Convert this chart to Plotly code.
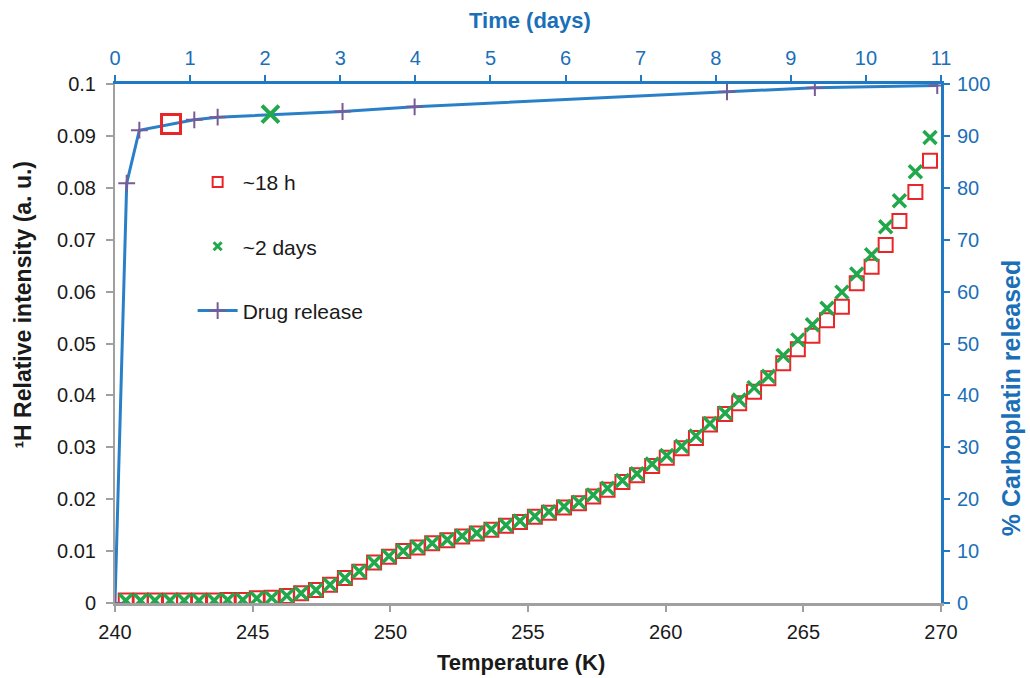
import plotly.graph_objects as go

# ---- data ----
temperature_K = [240.39, 240.93, 241.45, 242.00, 242.51, 243.05, 243.60, 244.09, 244.64, 245.15,
                 245.69, 246.24, 246.76, 247.30, 247.81, 248.35, 248.87, 249.41, 249.95, 250.47,
                 250.99, 251.52, 252.07, 252.61, 253.14, 253.67, 254.20, 254.71, 255.25, 255.76,
                 256.31, 256.85, 257.37, 257.89, 258.43, 258.96, 259.51, 260.04, 260.58, 261.10,
                 261.61, 262.16, 262.67, 263.21, 263.73, 264.27, 264.80, 265.33, 265.86, 266.40,
                 266.94, 267.48, 267.99, 268.49, 269.07, 269.60]

intensity_18h = [0.0005, 0.0005, 0.0005, 0.0005, 0.0005, 0.0005, 0.0005, 0.0006, 0.0006, 0.0009,
                 0.0010, 0.00135, 0.0019, 0.0025, 0.0035, 0.0048, 0.0060, 0.0078, 0.0089, 0.0100,
                 0.0107, 0.0115, 0.0121, 0.0128, 0.0134, 0.0141, 0.0149, 0.0156, 0.0166, 0.0174,
                 0.0184, 0.0192, 0.0205, 0.0218, 0.0233, 0.0246, 0.0264, 0.0280, 0.0298, 0.0318,
                 0.0344, 0.0364, 0.0385, 0.0407, 0.0433, 0.0462, 0.0489, 0.0515, 0.0545, 0.0571,
                 0.0616, 0.0648, 0.0690, 0.0736, 0.0792, 0.0852]

intensity_2days = [0.0005, 0.0005, 0.0005, 0.0005, 0.0005, 0.0005, 0.0005, 0.0006, 0.0006, 0.0009,
                   0.0010, 0.0014, 0.0019, 0.0025, 0.0035, 0.0048, 0.0061, 0.0078, 0.0090, 0.0100,
                   0.0108, 0.0115, 0.0122, 0.0129, 0.0135, 0.0142, 0.0150, 0.0158, 0.0167, 0.0176,
                   0.0186, 0.0194, 0.0208, 0.0221, 0.0236, 0.0249, 0.0268, 0.0284, 0.0302, 0.0322,
                   0.0346, 0.0366, 0.0391, 0.0415, 0.0437, 0.0477, 0.0507, 0.0536, 0.0568, 0.0599,
                   0.0634, 0.0671, 0.0725, 0.0775, 0.0831, 0.0897]

release_days = [0, 0.156, 0.324, 1.056, 1.367, 3.03, 3.99, 8.15, 9.32, 10.95]
release_pct = [0, 80.9, 91.1, 93.1, 93.6, 94.7, 95.6, 98.5, 99.3, 99.7]

sample_18h_day = [0.746]
sample_18h_pct = [92.3]
sample_2d_day = [2.07]
sample_2d_pct = [94.2]

x_ticks_T = [240, 245, 250, 255, 260, 265, 270]
x_ticks_days = list(range(0, 12))

title_bottom = "<b>Temperature (K)</b>"
title_left = "<b>¹H Relative intensity (a. u.)</b>"
title_top = "<b>Time (days)</b>"
title_right = "<b>% Carboplatin released</b>"

RED = "#e8262a"
GREEN = "#21a84a"
BLUE_LINE = "#2a80c8"
BLUE_AX = "#2079c2"
BLUE_TXT = "#1b6fb8"
PURPLE = "#7a5a96"
GRAY = "#a0a0a0"
BLACK = "#1a1a1a"
FONT = "Liberation Sans, Arial, sans-serif"
TICK_SIZE = 20

fig = go.Figure()

fig.add_trace(go.Scatter(
    x=temperature_K, y=intensity_18h, mode="markers", showlegend=False,
    marker=dict(symbol="square-open", size=14, color=RED, line=dict(width=2, color=RED)),
    xaxis="x", yaxis="y"))
fig.add_trace(go.Scatter(
    x=temperature_K, y=intensity_2days, mode="markers", showlegend=False,
    marker=dict(symbol="x-thin", size=13, color=GREEN, line=dict(width=3.5, color=GREEN)),
    xaxis="x", yaxis="y"))

# legend proxies
fig.add_trace(go.Scatter(
    x=[None], y=[None], mode="markers", name="~18 h", legendgroup="a",
    marker=dict(symbol="square-open", size=10, color=RED, line=dict(width=2, color=RED))))
fig.add_trace(go.Scatter(
    x=[None], y=[None], mode="markers", name="~2 days", legendgroup="b",
    marker=dict(symbol="x-thin", size=8, color=GREEN, line=dict(width=3, color=GREEN))))

fig.add_trace(go.Scatter(
    x=release_days, y=release_pct, mode="lines+markers", name="Drug release", legendgroup="c",
    line=dict(color=BLUE_LINE, width=3),
    marker=dict(symbol="cross-thin", size=12, color=PURPLE, line=dict(width=2, color=PURPLE)),
    xaxis="x2", yaxis="y2"))
fig.add_trace(go.Scatter(
    x=sample_18h_day, y=sample_18h_pct, mode="markers", showlegend=False,
    marker=dict(symbol="square-open", size=19, color=RED, line=dict(width=3, color=RED)),
    xaxis="x2", yaxis="y2"))
fig.add_trace(go.Scatter(
    x=sample_2d_day, y=sample_2d_pct, mode="markers", showlegend=False,
    marker=dict(symbol="x-thin", size=17, color=GREEN, line=dict(width=4, color=GREEN)),
    xaxis="x2", yaxis="y2"))

axis_common = dict(showgrid=False, zeroline=False, showline=True, automargin=False,
                   ticks="outside", tickwidth=2)

fig.update_layout(
    width=1030, height=678,
    margin=dict(l=115, r=89, t=84, b=75, autoexpand=False),
    paper_bgcolor="white", plot_bgcolor="white",
    font=dict(family=FONT, size=TICK_SIZE, color=BLACK),
    showlegend=True,
    legend=dict(x=0.094, y=0.85, xanchor="left", yanchor="top",
                traceorder="grouped", tracegroupgap=34,
                font=dict(size=21, color=BLACK, family=FONT),
                bgcolor="rgba(0,0,0,0)", itemwidth=40),
    xaxis=dict(range=[240, 270], tickvals=x_ticks_T, ticklen=6, tickcolor=GRAY,
               linecolor=GRAY, linewidth=3, tickfont=dict(size=TICK_SIZE, color=BLACK),
               ticklabelstandoff=3, **axis_common),
    yaxis=dict(range=[0, 0.1], dtick=0.01, ticklen=7, tickcolor=GRAY,
               linecolor=GRAY, linewidth=2, tickfont=dict(size=TICK_SIZE, color=BLACK),
               ticklabelstandoff=6, **axis_common),
    xaxis2=dict(range=[0, 11], tickvals=x_ticks_days, overlaying="x", side="top", anchor="y",
                ticklen=6, tickcolor=BLUE_AX, linecolor=BLUE_AX, linewidth=3,
                tickfont=dict(size=TICK_SIZE, color=BLUE_TXT), ticklabelstandoff=2, **axis_common),
    yaxis2=dict(range=[0, 100], dtick=10, overlaying="y", side="right", anchor="x",
                ticklen=6, tickcolor=BLUE_AX, linecolor=BLUE_AX, linewidth=3,
                tickfont=dict(size=TICK_SIZE, color=BLUE_TXT), ticklabelstandoff=3, **axis_common),
    annotations=[
        dict(text=title_bottom, xref="paper", yref="paper", x=0.4915, y=-0.1156,
             xanchor="center", yanchor="middle", showarrow=False,
             font=dict(size=22, color=BLACK, family=FONT)),
        dict(text=title_top, xref="paper", yref="paper", x=0.5024, y=1.1233,
             xanchor="center", yanchor="middle", showarrow=False,
             font=dict(size=22, color=BLUE_TXT, family=FONT)),
        dict(text=title_left, xref="paper", yref="paper", x=-0.1114, y=0.575,
             xanchor="center", yanchor="middle", showarrow=False, textangle=-90,
             font=dict(size=23, color=BLACK, family=FONT)),
        dict(text=title_right, xref="paper", yref="paper", x=1.085, y=0.395,
             xanchor="center", yanchor="middle", showarrow=False, textangle=-90,
             font=dict(size=25, color=BLUE_TXT, family=FONT)),
    ],
)

fig.write_html("out.html")
